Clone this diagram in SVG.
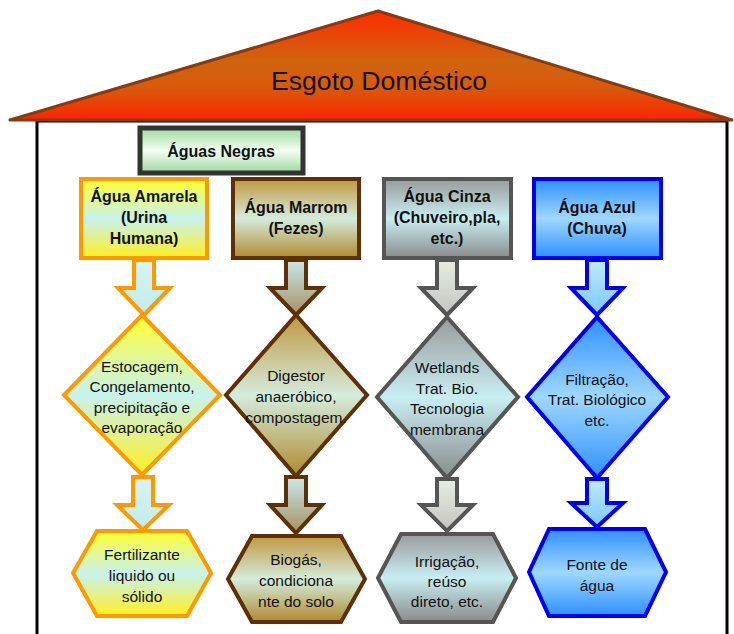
<svg xmlns="http://www.w3.org/2000/svg" width="734" height="634" viewBox="0 0 734 634">
<defs>
<linearGradient id="gRoof" x1="0" y1="0" x2="0" y2="1">
<stop offset="0" stop-color="#FF2A00"/><stop offset="0.45" stop-color="#D0640E"/><stop offset="0.7" stop-color="#D85A0C"/><stop offset="1" stop-color="#FF2400"/>
</linearGradient>
<linearGradient id="gGreen" x1="0" y1="0" x2="0" y2="1">
<stop offset="0" stop-color="#9ED89E"/><stop offset="0.5" stop-color="#F2FFF2"/><stop offset="1" stop-color="#9ED89E"/>
</linearGradient>
<linearGradient id="gY" x1="0" y1="0" x2="0" y2="1">
<stop offset="0" stop-color="#FFFF30"/><stop offset="0.5" stop-color="#C8F2EE"/><stop offset="1" stop-color="#FFF020"/>
</linearGradient>
<linearGradient id="gB" x1="0" y1="0" x2="0" y2="1">
<stop offset="0" stop-color="#C09840"/><stop offset="0.5" stop-color="#D4ECDC"/><stop offset="1" stop-color="#B08A2C"/>
</linearGradient>
<linearGradient id="gG" x1="0" y1="0" x2="0" y2="1">
<stop offset="0" stop-color="#9A9A9A"/><stop offset="0.5" stop-color="#C8EEF2"/><stop offset="1" stop-color="#8A8A8A"/>
</linearGradient>
<linearGradient id="gA" x1="0" y1="0" x2="0" y2="1">
<stop offset="0" stop-color="#2E90FF"/><stop offset="0.5" stop-color="#9ED8FF"/><stop offset="1" stop-color="#2E90FF"/>
</linearGradient>
<linearGradient id="gArr" x1="0" y1="0" x2="0" y2="1">
<stop offset="0" stop-color="#D8F4F2"/><stop offset="1" stop-color="#C0ECEC"/>
</linearGradient>
<linearGradient id="gArrB" x1="0" y1="0" x2="0" y2="1">
<stop offset="0" stop-color="#C8E8EE"/><stop offset="1" stop-color="#A89060"/>
</linearGradient>
<linearGradient id="gArrG" x1="0" y1="0" x2="0" y2="1">
<stop offset="0" stop-color="#E8ECE4"/><stop offset="1" stop-color="#C4C4C0"/>
</linearGradient>
<linearGradient id="gArrA" x1="0" y1="0" x2="0" y2="1">
<stop offset="0" stop-color="#BEEBFF"/><stop offset="1" stop-color="#7CC8FF"/>
</linearGradient>
</defs>
<style>
text{font-family:"Liberation Sans",Arial,sans-serif;fill:#111;text-anchor:middle}
.h{font-size:16px;font-weight:bold}
.d{font-size:15.5px}
.y{stroke:#FF9900;stroke-width:4;stroke-linejoin:miter}
.b{stroke:#5E3008;stroke-width:4}
.g{stroke:#555555;stroke-width:4}
.a{stroke:#0000F0;stroke-width:4}
</style>
<rect width="734" height="634" fill="#FFFFFF"/>
<g id="house">
<rect x="37" y="121" width="690" height="520" fill="#FFFFFF" stroke="#000" stroke-width="3"/>
</g>
<g id="roof">
<polygon points="378,11 10,120 732,120" fill="url(#gRoof)" stroke="#8B3A10" stroke-width="3" stroke-linejoin="round"/>
<text x="379" y="90" font-size="25" textLength="216" lengthAdjust="spacingAndGlyphs">Esgoto Doméstico</text>
</g>
<g id="aguas-negras">
<rect x="140" y="128" width="163" height="45" fill="url(#gGreen)" stroke="#333" stroke-width="5"/>
<text class="h" x="221" y="157">Águas Negras</text>
</g>
<g id="connectors">
<polygon class="y" points="134,260 154,260 154,288 170,288 144,315 118,288 134,288" fill="url(#gArr)"/>
<polygon class="b" points="286,260 306,260 306,288 322,288 296,315 270,288 286,288" fill="url(#gArrB)"/>
<polygon class="g" points="437,260 457,260 457,288 473,288 447,315 421,288 437,288" fill="url(#gArrG)"/>
<polygon class="a" points="587,260 607,260 607,288 623,288 597,315 571,288 587,288" fill="url(#gArrA)"/>
<polygon class="y" points="133,477 153,477 153,505 169,505 143,530 117,505 133,505" fill="url(#gArr)"/>
<polygon class="b" points="286,477 306,477 306,505 322,505 296,533 270,505 286,505" fill="url(#gArrB)"/>
<polygon class="g" points="437,479 457,479 457,505 473,505 447,531 421,505 437,505" fill="url(#gArrG)"/>
<polygon class="a" points="587,479 607,479 607,503 623,503 597,527 571,503 587,503" fill="url(#gArrA)"/>
</g>
<g id="agua-amarela">
<rect class="y" x="81" y="179" width="126" height="79" fill="url(#gY)"/>
<text class="h" x="144" y="202">Água Amarela</text>
<text class="h" x="144" y="223">(Urina</text>
<text class="h" x="144" y="244">Humana)</text>
</g>
<g id="agua-marrom">
<rect class="b" x="233" y="179" width="126" height="79" fill="url(#gB)"/>
<text class="h" x="296" y="213">Água Marrom</text>
<text class="h" x="296" y="234">(Fezes)</text>
</g>
<g id="agua-cinza">
<rect class="g" x="384" y="179" width="127" height="79" fill="url(#gG)"/>
<text class="h" x="447" y="202">Água Cinza</text>
<text class="h" x="447" y="223">(Chuveiro,pla,</text>
<text class="h" x="447" y="244">etc.)</text>
</g>
<g id="agua-azul">
<rect class="a" x="534" y="179" width="127" height="79" fill="url(#gA)"/>
<text class="h" x="597" y="213">Água Azul</text>
<text class="h" x="597" y="234">(Chuva)</text>
</g>
<g id="estocagem">
<polygon class="y" points="142,315 220,395 142,475 64,395" fill="url(#gY)"/>
<text class="d" x="142" y="372">Estocagem,</text>
<text class="d" x="142" y="392">Congelamento,</text>
<text class="d" x="142" y="413">precipitação e</text>
<text class="d" x="142" y="433">evaporação</text>
</g>
<g id="digestor">
<polygon class="b" points="296,315 367,395 296,476 226,395" fill="url(#gB)"/>
<text class="d" x="296" y="381">Digestor</text>
<text class="d" x="296" y="402">anaeróbico,</text>
<text class="d" x="296" y="423">compostagem.</text>
</g>
<g id="wetlands">
<polygon class="g" points="447,317 518,397 447,478 377,397" fill="url(#gG)"/>
<text class="d" x="447" y="373">Wetlands</text>
<text class="d" x="447" y="394">Trat. Bio.</text>
<text class="d" x="447" y="414">Tecnologia</text>
<text class="d" x="447" y="435">membrana</text>
</g>
<g id="filtracao">
<polygon class="a" points="597,317 668,397 597,478 527,397" fill="url(#gA)"/>
<text class="d" x="597" y="385">Filtração,</text>
<text class="d" x="597" y="405">Trat. Biológico</text>
<text class="d" x="597" y="426">etc.</text>
</g>
<g id="fertilizante">
<polygon class="y" points="73,573 97,531 187,531 211,573 187,616 97,616" fill="url(#gY)"/>
<text class="d" x="142" y="560">Fertilizante</text>
<text class="d" x="142" y="581">liquido ou</text>
<text class="d" x="142" y="602">sólido</text>
</g>
<g id="biogas">
<polygon class="b" points="228,579 252,536 341,536 365,579 341,622 252,622" fill="url(#gB)"/>
<text class="d" x="296" y="565">Biogás,</text>
<text class="d" x="296" y="586">condiciona</text>
<text class="d" x="296" y="607">nte do solo</text>
</g>
<g id="irrigacao">
<polygon class="g" points="378,578 401,534 493,534 516,578 493,622 401,622" fill="url(#gG)"/>
<text class="d" x="447" y="567">Irrigação,</text>
<text class="d" x="447" y="587">reúso</text>
<text class="d" x="447" y="607">direto, etc.</text>
</g>
<g id="fonte">
<polygon class="a" points="529,572 549,529 645,529 666,572 645,616 549,616" fill="url(#gA)"/>
<text class="d" x="597" y="570">Fonte de</text>
<text class="d" x="597" y="591">água</text>
</g>
</svg>
